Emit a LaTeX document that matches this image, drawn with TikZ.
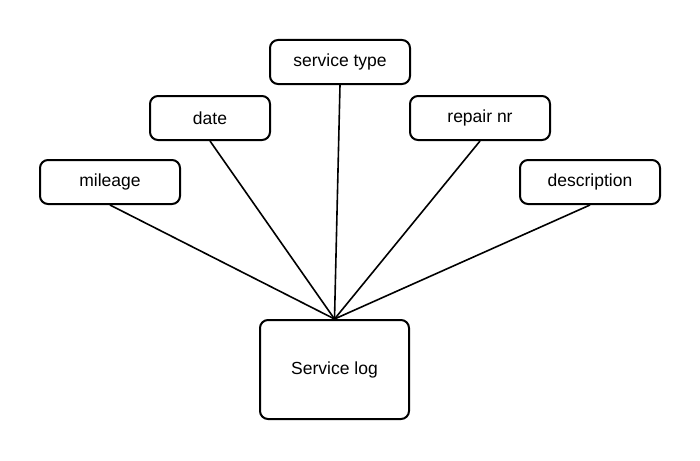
\documentclass[tikz,border=0pt]{standalone}
\usepackage{fontspec}
\setmainfont{Liberation Sans}
\begin{document}
\begin{tikzpicture}[x=1pt,y=-1pt,
  attr/.style={draw=black, line width=2pt, rounded corners=8pt, minimum height=44pt, inner sep=0pt, font=\fontsize{17.5}{20}\selectfont},
  link/.style={draw=black, line width=1.6pt}]
\useasboundingbox (0,0) rectangle (700,460);
\node[attr, minimum width=140pt] (stype) at (340,62) {service type};
\node[attr, minimum width=120pt] (date) at (210,118) {date};
\node[attr, minimum width=140pt] (repair) at (480,118) {repair nr};
\node[attr, minimum width=140pt] (mileage) at (110,182) {mileage};
\node[attr, minimum width=140pt] (desc) at (590,182) {description};
\node[attr, minimum width=149pt, minimum height=99pt] (log) at (334.5,369.5) {Service log};
\coordinate (hub) at (log.north);
\draw[link] (mileage.south) -- (hub);
\draw[link] (date.south) -- (hub);
\draw[link] (stype.south) -- (hub);
\draw[link] (repair.south) -- (hub);
\draw[link] (desc.south) -- (hub);
\end{tikzpicture}
\end{document}
